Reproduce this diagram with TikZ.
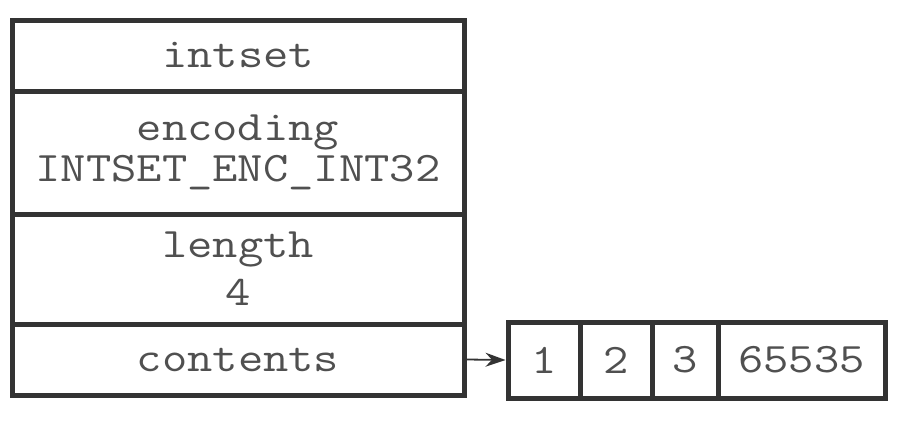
\documentclass[tikz,border=0pt]{standalone}
\usepackage{fontspec}
\setmonofont{Latin Modern Mono}[FakeStretch=1.17]
\usetikzlibrary{arrows.meta}
\definecolor{boxline}{HTML}{333333}
\definecolor{boxtext}{HTML}{505050}
\tikzset{
  cell/.style={draw=boxline, line width=5pt, inner sep=0pt, text=boxtext,
    align=center, font=\ttfamily\fontsize{42}{41}\selectfont},
}
\begin{document}
\begin{tikzpicture}[x=1pt,y=-1pt]
          \useasboundingbox (0,0) rectangle (898,434);
          \node[cell, minimum width=452pt, minimum height=71pt] (intset) at (238,55.5) {intset};
          \node[cell, minimum width=452pt, minimum height=123pt] (encoding) at (238,152.5) {encoding\\INTSET\_ENC\_INT32};
          \node[cell, minimum width=452pt, minimum height=110pt] (length) at (238,269) {length\\[7pt]4};
          \node[cell, minimum width=452pt, minimum height=71pt] (contents) at (238,359.5) {contents};
          \node[cell, minimum width=72pt, minimum height=76pt] (one) at (544,360) {1};
          \node[cell, minimum width=72pt, minimum height=76pt] (two) at (616,360) {2};
          \node[cell, minimum width=66pt, minimum height=76pt] (three) at (685,360) {3};
          \node[cell, minimum width=167pt, minimum height=76pt] (last) at (801.5,360) {65535};
          \draw [-{Stealth[length=20pt,width=14pt]}, line width=1.8pt, boxline] (contents.east) -- (one.west);
      \end{tikzpicture}
\end{document}
